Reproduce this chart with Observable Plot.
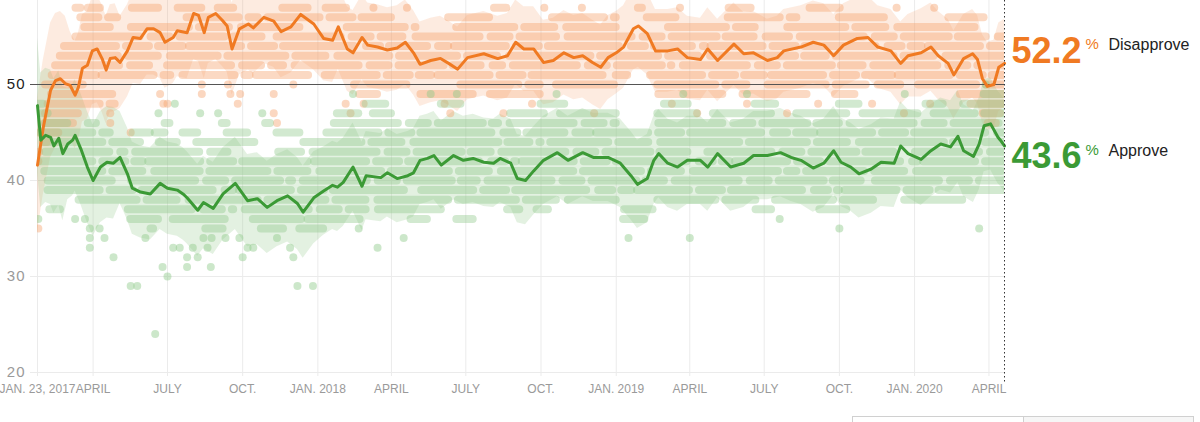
<!DOCTYPE html>
<html>
<head>
<meta charset="utf-8">
<script src="https://cdn.jsdelivr.net/npm/d3@7"></script>
<script src="https://cdn.jsdelivr.net/npm/@observablehq/plot@0.6"></script>
<style>
  html, body { margin: 0; padding: 0; background: #fff; overflow: hidden; }
  body { width: 1200px; height: 422px; position: relative; font-family: "Liberation Sans", Arial, sans-serif; }
  #chart svg { display: block; }
  g[aria-label="y-axis tick label"] text { letter-spacing: 1px; }
  #box { position: absolute; left: 852px; top: 416px; width: 340px; height: 20px; border: 1px solid #d0d0d0; display: flex; }
  #box div:first-child { width: 170px; border-right: 1px solid #d0d0d0; }
  #box div:last-child { flex: 1; background: #f6f6f6; }
</style>
</head>
<body>
<div id="chart"></div>
<div id="box"><div></div><div></div></div>
<script>
// ---- Trend lines (date, %) ----
const disapprove = [["2017-01-23",41.6],["2017-01-30",45.5],["2017-02-08",49.4],["2017-02-14",50.4],["2017-02-20",50.6],["2017-02-26",50.1],["2017-03-04",49.9],["2017-03-10",48.9],["2017-03-14",49.7],["2017-03-19",51.7],["2017-03-25",52.0],["2017-03-31",53.5],["2017-04-06",53.7],["2017-04-12",52.7],["2017-04-17",51.5],["2017-04-22",52.7],["2017-04-28",52.8],["2017-05-04",52.3],["2017-05-13",53.5],["2017-05-20",54.9],["2017-05-29",54.8],["2017-06-06",55.8],["2017-06-14",55.8],["2017-06-22",55.4],["2017-06-28",54.4],["2017-07-08",54.9],["2017-07-13",55.6],["2017-07-25",55.4],["2017-08-02",57.4],["2017-08-08",57.2],["2017-08-15",55.4],["2017-08-20",57.0],["2017-08-29",57.4],["2017-09-06",56.7],["2017-09-12",56.1],["2017-09-18",53.7],["2017-09-27",55.8],["2017-10-08",56.3],["2017-10-14",55.9],["2017-10-27",57.0],["2017-11-08",56.6],["2017-11-17",55.5],["2017-11-29",56.0],["2017-12-11",57.3],["2017-12-27",56.3],["2018-01-08",54.8],["2018-01-19",54.6],["2018-01-26",56.0],["2018-02-06",53.7],["2018-02-13",53.3],["2018-02-24",54.9],["2018-03-03",54.1],["2018-03-15",53.9],["2018-03-27",53.6],["2018-04-08",53.8],["2018-04-18",54.4],["2018-04-28",53.3],["2018-05-06",52.1],["2018-05-19",52.5],["2018-05-31",52.7],["2018-06-10",52.2],["2018-06-21",51.6],["2018-07-03",52.8],["2018-07-23",53.2],["2018-08-09",52.7],["2018-08-21",53.0],["2018-08-31",54.4],["2018-09-10",53.7],["2018-09-22",53.7],["2018-10-04",52.3],["2018-10-16",52.5],["2018-10-29",53.3],["2018-11-10",52.8],["2018-11-21",53.0],["2018-12-03",52.3],["2018-12-13",51.8],["2018-12-22",52.8],["2019-01-01",53.3],["2019-01-10",53.9],["2019-01-22",55.8],["2019-01-28",56.1],["2019-02-08",55.3],["2019-02-18",53.5],["2019-03-05",53.5],["2019-03-17",53.7],["2019-03-29",52.8],["2019-04-14",52.6],["2019-04-23",53.7],["2019-05-05",52.5],["2019-05-25",54.2],["2019-06-06",53.2],["2019-06-18",53.3],["2019-07-05",52.5],["2019-07-17",52.8],["2019-07-25",53.5],["2019-08-15",53.9],["2019-08-30",54.4],["2019-09-12",54.1],["2019-09-24",53.0],["2019-10-06",54.1],["2019-10-23",54.8],["2019-11-05",54.9],["2019-11-17",53.9],["2019-12-03",53.5],["2019-12-15",52.2],["2019-12-24",53.0],["2020-01-09",53.3],["2020-01-21",53.9],["2020-01-30",53.0],["2020-02-11",52.2],["2020-02-18",51.0],["2020-03-01",52.7],["2020-03-12",53.2],["2020-03-18",52.6],["2020-03-24",50.6],["2020-03-30",49.8],["2020-04-07",50.0],["2020-04-13",51.8],["2020-04-20",52.2]];

const approve = [["2017-01-23",47.8],["2017-01-27",44.2],["2017-02-02",44.7],["2017-02-08",44.5],["2017-02-12",43.6],["2017-02-18",44.4],["2017-02-23",42.8],["2017-03-01",43.8],["2017-03-07",44.2],["2017-03-10",44.7],["2017-03-17",43.3],["2017-03-25",41.4],["2017-04-01",40.0],["2017-04-10",41.4],["2017-04-18",41.9],["2017-04-26",41.8],["2017-05-04",42.4],["2017-05-13",40.7],["2017-05-19",39.2],["2017-05-29",38.8],["2017-06-10",38.6],["2017-06-22",39.7],["2017-07-01",39.2],["2017-07-13",39.0],["2017-07-20",38.6],["2017-07-25",38.2],["2017-08-07",36.9],["2017-08-14",37.7],["2017-08-26",37.1],["2017-09-07",38.6],["2017-09-22",39.7],["2017-10-07",37.9],["2017-10-19",38.1],["2017-10-31",37.2],["2017-11-12",37.9],["2017-11-25",38.4],["2017-12-07",37.6],["2017-12-14",36.7],["2017-12-27",38.2],["2018-01-08",38.9],["2018-01-19",39.5],["2018-01-25",39.3],["2018-02-01",39.8],["2018-02-13",41.4],["2018-02-24",39.4],["2018-03-01",40.5],["2018-03-19",40.3],["2018-03-27",40.8],["2018-04-08",40.2],["2018-04-21",40.5],["2018-04-28",40.8],["2018-05-06",42.1],["2018-05-15",42.3],["2018-05-23",42.6],["2018-06-01",41.6],["2018-06-16",42.6],["2018-06-28",42.1],["2018-07-10",42.3],["2018-07-23",41.9],["2018-08-04",41.8],["2018-08-12",42.3],["2018-08-25",41.8],["2018-09-02",40.2],["2018-09-12",40.0],["2018-09-22",41.0],["2018-10-04",42.1],["2018-10-21",42.9],["2018-11-03",42.1],["2018-11-21",42.9],["2018-12-04",42.4],["2018-12-22",42.4],["2019-01-06",41.8],["2019-01-19",40.5],["2019-01-27",39.6],["2019-02-08",40.2],["2019-02-16",42.1],["2019-02-22",42.8],["2019-03-05",41.8],["2019-03-17",41.4],["2019-03-29",42.1],["2019-04-14",42.1],["2019-04-23",41.4],["2019-05-05",42.8],["2019-05-21",41.4],["2019-06-06",41.8],["2019-06-18",42.6],["2019-07-05",42.6],["2019-07-21",42.9],["2019-08-03",42.4],["2019-08-15",42.1],["2019-08-30",41.3],["2019-09-12",41.8],["2019-09-24",43.1],["2019-10-03",41.9],["2019-10-15",41.4],["2019-10-25",40.7],["2019-11-09",41.2],["2019-11-21",41.9],["2019-12-07",41.8],["2019-12-15",43.6],["2019-12-24",42.8],["2020-01-09",42.2],["2020-01-21",43.1],["2020-02-02",43.8],["2020-02-14",43.5],["2020-02-23",44.6],["2020-03-01",43.1],["2020-03-13",42.5],["2020-03-20",43.8],["2020-03-26",45.7],["2020-04-03",45.9],["2020-04-12",44.5],["2020-04-15",44.2],["2020-04-20",43.6]];

// ---- Uncertainty band half-widths (percentage points), by period ----
const disapproveSpread = [["2017-01-23",7.0],["2017-03-01",5.6],["2017-05-01",4.8],["2018-01-01",4.4],["2019-01-01",4.3],["2020-01-01",4.6]];
const approveSpread = [["2017-01-23",7.0],["2017-03-01",5.8],["2017-05-01",4.8],["2018-01-01",4.6],["2019-01-01",4.6],["2020-01-01",4.8]];

// ---- Individual polls: stretches of polls at one level [level, from, to] ----
const disapprovePollRuns = [
 [44,"2017-01-25","2017-02-04"],[45,"2017-01-25","2017-02-18"],[46,"2017-01-26","2017-03-08"],[47,"2017-01-28","2017-03-14"],
 [48,"2017-02-05","2017-04-28"],[48,"2020-03-10","2020-04-20"],[47,"2020-03-20","2020-04-15"],[46,"2020-03-25","2020-04-10"],
 [49,"2017-02-03","2017-04-25"],[49,"2018-02-15","2018-03-15"],[49,"2018-05-01","2018-07-10"],[49,"2018-07-25","2018-09-30"],[49,"2019-02-16","2019-05-15"],[49,"2019-05-30","2019-08-31"],[49,"2019-09-20","2019-10-20"],[49,"2020-02-20","2020-04-20"],
 [50,"2017-01-28","2017-03-20"],[50,"2018-02-10","2018-04-20"],[50,"2018-06-20","2018-09-30"],[50,"2018-10-15","2018-12-31"],[50,"2019-02-16","2019-06-10"],[50,"2019-07-01","2019-12-15"],[50,"2020-01-01","2020-04-20"],
 [51,"2017-02-10","2017-04-05"],[51,"2017-04-12","2017-07-05"],[51,"2017-07-20","2017-10-10"],[51,"2017-10-18","2017-12-31"],[51,"2018-01-10","2018-05-20"],[51,"2018-05-28","2018-12-20"],[51,"2019-01-01","2019-01-15"],[51,"2019-02-12","2019-07-01"],[51,"2019-07-10","2019-12-05"],[51,"2019-12-12","2020-04-20"],
 [52,"2017-02-08","2017-06-10"],[52,"2017-06-25","2017-11-20"],[52,"2017-11-28","2018-08-15"],[52,"2018-08-22","2019-03-10"],[52,"2019-03-18","2019-10-30"],[52,"2019-11-06","2020-04-20"],
 [53,"2017-02-15","2017-09-01"],[53,"2017-09-08","2018-03-30"],[53,"2018-04-06","2018-12-01"],[53,"2018-12-08","2019-09-15"],[53,"2019-09-22","2020-04-20"],
 [54,"2017-02-25","2017-07-20"],[54,"2017-07-28","2018-06-10"],[54,"2018-06-17","2019-04-20"],[54,"2019-04-27","2020-01-10"],[54,"2020-01-18","2020-04-20"],
 [55,"2017-03-05","2017-10-30"],[55,"2017-11-06","2018-04-15"],[55,"2018-04-25","2018-10-20"],[55,"2018-10-28","2019-08-01"],[55,"2019-08-08","2020-04-20"],
 [56,"2017-03-17","2017-04-22"],[56,"2017-05-13","2017-12-10"],[56,"2018-02-01","2018-05-01"],[56,"2018-06-15","2019-01-01"],[56,"2019-03-01","2019-06-20"],[56,"2019-07-25","2020-03-15"],
 [57,"2017-03-17","2017-04-08"],[57,"2017-04-20","2017-05-01"],[57,"2017-07-25","2017-10-20"],[57,"2017-11-01","2018-04-01"],[57,"2018-06-10","2018-07-30"],[57,"2018-10-15","2019-01-01"],[57,"2019-02-08","2019-03-15"],[57,"2019-05-18","2019-08-10"],[57,"2019-10-01","2019-11-25"],[57,"2020-02-12","2020-03-26"],
 [58,"2017-03-05","2017-03-17"],[58,"2017-03-20","2017-04-10"],[58,"2017-05-13","2017-06-20"],[58,"2017-07-08","2017-08-12"],[58,"2017-08-26","2017-09-20"],[58,"2017-11-13","2017-12-20"],[58,"2018-01-05","2018-02-05"],[58,"2018-07-30","2018-08-20"],[58,"2019-01-22","2019-02-02"],[58,"2019-05-13","2019-06-15"],[58,"2019-08-20","2019-10-02"]
];
const disapprovePollDots = [
 [35,"2017-01-24"],[42,"2017-01-24"],[43,"2017-01-25"],[49,"2017-06-22"],[48,"2017-06-26"],[48,"2017-07-01"],[50,"2017-08-12"],[49,"2017-08-12"],[47,"2017-04-22"],[46,"2017-04-22"],[45,"2017-05-17"],[50,"2017-09-13"],[49,"2017-09-16"],[48,"2017-09-25"],[49,"2017-09-28"],[47,"2017-11-08"],[46,"2017-11-12"],[49,"2017-11-08"],[50,"2017-12-02"],[47,"2018-02-10"],[48,"2018-02-04"],[48,"2018-02-26"],[47,"2018-06-12"],[48,"2018-06-05"],[47,"2018-08-16"],[48,"2018-09-20"],[47,"2018-12-05"],[48,"2019-03-10"],[47,"2019-04-10"],[48,"2019-06-10"],[47,"2019-07-29"],[48,"2019-09-05"],[48,"2019-11-10"],[47,"2019-12-19"],[48,"2020-01-20"],
 [58,"2018-03-10"],[58,"2018-04-20"],[58,"2018-10-05"],[58,"2018-11-20"],[58,"2019-03-20"],[58,"2019-12-10"],[58,"2020-01-25"]
];
const approvePollRuns = [
 [49,"2020-03-20","2020-04-20"],
 [48,"2017-01-24","2017-01-30"],[48,"2018-03-01","2018-03-25"],[48,"2018-06-01","2018-06-25"],[48,"2018-10-01","2018-10-30"],[48,"2019-03-01","2019-03-30"],[48,"2019-06-20","2019-07-15"],[48,"2019-10-01","2019-10-25"],[48,"2020-01-15","2020-02-05"],[48,"2020-03-01","2020-04-20"],
 [47,"2017-01-24","2017-02-05"],[47,"2018-01-20","2018-02-20"],[47,"2018-03-05","2018-04-01"],[47,"2018-08-20","2018-10-05"],[47,"2018-10-20","2019-01-01"],[47,"2019-02-16","2019-04-10"],[47,"2019-04-25","2019-07-20"],[47,"2019-08-05","2019-10-10"],[47,"2019-10-25","2020-01-05"],[47,"2020-01-20","2020-03-15"],[47,"2020-03-22","2020-04-20"],
 [46,"2017-01-27","2017-03-01"],[46,"2017-03-20","2017-04-05"],[46,"2017-06-22","2017-07-04"],[46,"2017-08-31","2017-09-12"],[46,"2017-10-23","2017-11-04"],[46,"2018-01-15","2018-08-10"],[46,"2018-08-18","2019-01-01"],[46,"2019-02-16","2019-10-01"],[46,"2019-10-08","2020-04-20"],
 [45,"2017-01-27","2017-04-22"],[45,"2017-05-20","2017-06-10"],[45,"2017-06-16","2017-06-28"],[45,"2017-07-20","2017-08-07"],[45,"2017-09-12","2017-10-07"],[45,"2017-11-12","2017-12-10"],[45,"2018-01-12","2018-12-01"],[45,"2018-12-08","2019-09-01"],[45,"2019-09-08","2020-04-20"],
 [44,"2017-01-27","2017-05-29"],[44,"2017-06-16","2017-07-13"],[44,"2017-08-01","2017-10-25"],[44,"2017-12-10","2018-10-01"],[44,"2018-10-08","2019-06-01"],[44,"2019-06-08","2020-04-20"],
 [43,"2017-01-27","2017-05-10"],[43,"2017-05-17","2017-09-13"],[43,"2017-11-08","2017-12-12"],[43,"2017-12-20","2018-08-01"],[43,"2018-08-08","2019-04-10"],[43,"2019-04-17","2019-12-20"],[43,"2019-12-27","2020-04-20"],
 [42,"2017-01-27","2017-06-01"],[42,"2017-06-08","2017-12-20"],[42,"2017-12-28","2018-09-01"],[42,"2018-09-08","2019-05-20"],[42,"2019-05-27","2020-01-05"],[42,"2020-01-12","2020-04-20"],
 [41,"2017-01-27","2017-08-10"],[41,"2017-08-17","2018-03-20"],[41,"2018-03-27","2018-11-10"],[41,"2018-11-17","2019-08-10"],[41,"2019-08-17","2020-04-20"],
 [40,"2017-01-30","2017-05-05"],[40,"2017-05-12","2017-12-01"],[40,"2017-12-08","2018-07-15"],[40,"2018-07-22","2019-03-01"],[40,"2019-03-08","2019-11-01"],[40,"2019-11-08","2020-04-20"],
 [39,"2017-02-05","2017-09-20"],[39,"2017-09-27","2018-05-01"],[39,"2018-05-08","2019-01-20"],[39,"2019-01-27","2019-10-01"],[39,"2019-10-08","2020-04-20"],
 [38,"2017-03-10","2017-10-20"],[38,"2017-10-27","2018-06-10"],[38,"2018-06-17","2019-01-01"],[38,"2019-02-16","2019-07-01"],[38,"2019-07-10","2019-11-25"],[38,"2019-12-15","2020-03-10"],
 [37,"2017-02-01","2017-02-20"],[37,"2017-05-08","2017-09-20"],[37,"2017-09-28","2018-03-01"],[37,"2018-03-10","2018-06-01"],[37,"2018-08-15","2018-09-05"],[37,"2018-09-20","2018-10-10"],[37,"2019-01-05","2019-02-15"],[37,"2019-06-15","2019-07-10"],[37,"2019-09-01","2019-10-10"],
 [36,"2017-05-17","2017-06-20"],[36,"2017-07-08","2017-09-20"],[36,"2017-10-14","2017-12-12"],[36,"2017-12-20","2018-02-24"],[36,"2018-04-25","2018-05-15"],[36,"2018-06-20","2018-07-10"],[36,"2019-01-10","2019-02-05"],
 [35,"2017-06-06","2017-06-14"],[35,"2017-08-12","2017-09-07"],[35,"2017-10-19","2017-11-20"],[35,"2017-12-05","2018-01-08"]
];
const approvePollDots = [
 [36,"2017-01-24"],[36,"2017-03-10"],[36,"2017-03-22"],[35,"2017-03-28"],[35,"2017-04-09"],[34,"2017-03-28"],[34,"2017-04-15"],[33,"2017-03-28"],[32,"2017-04-26"],[29,"2017-05-17"],[29,"2017-05-25"],[34,"2017-06-04"],[24,"2017-06-16"],[31,"2017-06-25"],[30,"2017-07-01"],[33,"2017-07-08"],[33,"2017-07-16"],[31,"2017-07-25"],[32,"2017-07-25"],[33,"2017-08-01"],[32,"2017-08-07"],[34,"2017-08-14"],[34,"2017-08-24"],[33,"2017-08-19"],[31,"2017-08-23"],[34,"2017-09-10"],[34,"2017-09-27"],[32,"2017-10-01"],[33,"2017-10-07"],[33,"2017-10-14"],[34,"2017-11-12"],[33,"2017-11-28"],[32,"2017-12-02"],[29,"2017-12-07"],[29,"2017-12-26"],[35,"2018-02-20"],[33,"2018-03-15"],[34,"2018-04-16"],[34,"2019-01-16"],[34,"2019-04-01"],[36,"2019-07-20"],[35,"2019-10-01"],[35,"2020-03-20"],
 [47,"2017-06-20"],[47,"2017-09-01"],[48,"2017-07-10"],[47,"2017-08-10"],[47,"2017-10-25"],
 [49,"2018-02-13"],[49,"2018-05-19"],[49,"2018-06-20"],[49,"2018-10-20"],[49,"2019-03-24"],[49,"2019-06-10"],[49,"2019-12-20"],[50,"2020-03-28"]
];

// ---- Axis ticks ----
const xTickDates = ["2017-01-23","2017-04-01","2017-07-01","2017-10-01","2018-01-01","2018-04-01","2018-07-01","2018-10-01","2019-01-01","2019-04-01","2019-07-01","2019-10-01","2020-01-01","2020-04-01"];
const xTickLabels = ["JAN. 23, 2017","APRIL","JULY","OCT.","JAN. 2018","APRIL","JULY","OCT.","JAN. 2019","APRIL","JULY","OCT.","JAN. 2020","APRIL"];
const yTicks = [20, 30, 40, 50];
const startDate = "2017-01-23", endDate = "2020-04-20";
const seriesLabels = ["Disapprove", "Approve"];

// ---- build ----
const parse = d3.utcParse("%Y-%m-%d");
const ORANGE = "#f07a22", GREEN = "#3b9a35";
const toPts = arr => arr.map(([d, v]) => ({date: parse(d), value: v}));
const spreadAt = (list, date) => { let s = list[0][1]; for (const [d, v] of list) if (parse(d) <= date) s = v; return s; };
const D = toPts(disapprove), A = toPts(approve);
const Dband = D.map(p => { const s = spreadAt(disapproveSpread, p.date); return {date: p.date, lo: p.value - s, hi: p.value + s}; });
const Aband = A.map(p => { const s = spreadAt(approveSpread, p.date); return {date: p.date, lo: p.value - s, hi: p.value + s}; });
const runs = arr => arr.map(([l, a, b]) => ({level: l, start: parse(a), end: parse(b)}));
const dots = arr => arr.map(([l, a]) => ({level: l, date: parse(a)}));
const tickMap = new Map(xTickDates.map((d, i) => [+parse(d), xTickLabels[i]]));
const lastD = D[D.length - 1], lastA = A[A.length - 1];

// irregular pill texture (style only)
const dashPatterns = [
  "52,10,23,9,71,12,14,9,38,11,27,9,60,12",
  "33,9,64,11,19,10,45,9,28,12,77,10,16,9",
  "41,11,17,9,58,10,30,12,85,9,22,10,49,11"
];
function pillMarks(list, color) {
  const rs = runs(list);
  const base = {y: "level", x1: "start", x2: "end", stroke: color, strokeOpacity: 0.4, strokeWidth: 8, strokeLinecap: "round", clip: true};
  return dashPatterns.map((p, k) =>
    Plot.ruleY(rs.filter(r => r.level % 3 === k), {...base, strokeDasharray: p, strokeDashoffset: k * 37})
  );
}

const plot = Plot.plot({
  width: 1200, height: 422,
  marginLeft: 37, marginRight: 196, marginTop: 0, marginBottom: 50,
  x: {type: "utc", domain: [parse(startDate), parse(endDate)]},
  y: {domain: [20, 58.75]},
  style: {fontFamily: "'Liberation Sans', Arial, sans-serif", background: "white", overflow: "visible"},
  marks: [
    Plot.ruleX(xTickDates.map(parse), {stroke: "#ebebeb", insetBottom: -4}),
    Plot.ruleY(yTicks.filter(t => t !== 50), {stroke: "#ebebeb", insetLeft: -7}),
    Plot.areaY(Dband, {x: "date", y1: "lo", y2: "hi", fill: "#f6a673", fillOpacity: 0.22, clip: true}),
    Plot.areaY(Aband, {x: "date", y1: "lo", y2: "hi", fill: "#8fc987", fillOpacity: 0.25, clip: true}),
    ...pillMarks(disapprovePollRuns, "#f6a06a"),
    Plot.dot(dots(disapprovePollDots), {x: "date", y: "level", r: 4, fill: "#f6a06a", fillOpacity: 0.42, clip: true}),
    ...pillMarks(approvePollRuns, "#8fc98a"),
    Plot.dot(dots(approvePollDots), {x: "date", y: "level", r: 4, fill: "#8fc98a", fillOpacity: 0.45, clip: true}),
    Plot.ruleY([50], {stroke: "#555", strokeWidth: 1, insetLeft: -7}),
    Plot.line(D, {x: "date", y: "value", stroke: ORANGE, strokeWidth: 3, strokeLinejoin: "round"}),
    Plot.line(A, {x: "date", y: "value", stroke: GREEN, strokeWidth: 3, strokeLinejoin: "round"}),
    Plot.ruleX([parse(endDate)], {stroke: "#333", strokeDasharray: "1.5,2.5", insetBottom: -10}),
    Plot.axisX({ticks: xTickDates.map(parse), tickFormat: d => tickMap.get(+d), tickSize: 0, tickPadding: 12, fontSize: 12, color: "#9a9a9a", label: null}),
    Plot.axisY({ticks: yTicks.filter(t => t !== 50), tickSize: 0, tickPadding: 12, fontSize: 15, color: "#9a9a9a", label: null}),
    Plot.axisY({ticks: [50], tickSize: 0, tickPadding: 12, fontSize: 15, color: "#222", label: null}),
    // end labels
    Plot.text([lastD], {x: "date", y: "value", text: d => d.value.toFixed(1), dx: 7, textAnchor: "start", lineAnchor: "bottom", fontSize: 36, fontWeight: 700, fill: ORANGE}),
    Plot.text([lastD], {x: "date", y: "value", text: () => "%", dx: 81, dy: -14, textAnchor: "start", lineAnchor: "bottom", fontSize: 15, fill: ORANGE}),
    Plot.text([lastD], {x: "date", y: "value", text: () => seriesLabels[0], dx: 104, dy: -13, textAnchor: "start", lineAnchor: "bottom", fontSize: 16, fill: "#222"}),
    Plot.text([lastA], {x: "date", y: "value", text: d => d.value.toFixed(1), dx: 7, dy: 22, textAnchor: "start", lineAnchor: "bottom", fontSize: 36, fontWeight: 700, fill: GREEN}),
    Plot.text([lastA], {x: "date", y: "value", text: () => "%", dx: 81, dy: 9, textAnchor: "start", lineAnchor: "bottom", fontSize: 15, fill: GREEN}),
    Plot.text([lastA], {x: "date", y: "value", text: () => seriesLabels[1], dx: 104, dy: 10, textAnchor: "start", lineAnchor: "bottom", fontSize: 16, fill: "#222"})
  ]
});
document.getElementById("chart").appendChild(plot);
</script>
</body>
</html>
